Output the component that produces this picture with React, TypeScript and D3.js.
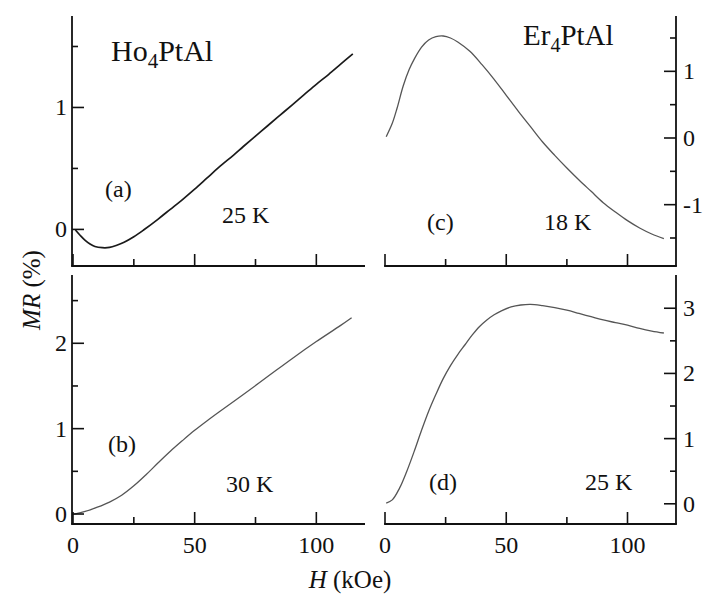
import React from "react";
import * as d3 from "d3";

// ---- data ----
const hA = [1, 3, 5, 7, 9, 12, 15, 18, 21, 25, 29, 35, 40, 45, 50, 55, 60, 66, 70, 75, 80, 85, 90, 95, 100, 105, 110, 115];
const mrA = [-0.005, -0.05, -0.09, -0.12, -0.14, -0.15, -0.148, -0.13, -0.105, -0.06, -0.005, 0.085, 0.165, 0.245, 0.33, 0.42, 0.51, 0.61, 0.68, 0.765, 0.85, 0.935, 1.02, 1.105, 1.19, 1.27, 1.355, 1.44];

const hB = [0.5, 5, 10, 15, 20, 25, 30, 35, 40, 45, 50, 55, 60, 70, 80, 90, 100, 110, 114.5];
const mrB = [0, 0.03, 0.08, 0.14, 0.22, 0.33, 0.46, 0.6, 0.735, 0.86, 0.98, 1.09, 1.195, 1.4, 1.61, 1.82, 2.02, 2.21, 2.3];

const hC = [0.5, 3, 5, 7.5, 10, 12, 15, 18, 21, 24, 27, 30, 35, 40, 45, 50, 55, 60, 65, 70, 75, 80, 85, 90, 95, 100, 105, 110, 115];
const mrC = [0.02, 0.22, 0.45, 0.78, 1.03, 1.18, 1.36, 1.47, 1.52, 1.53, 1.5, 1.44, 1.3, 1.1, 0.88, 0.64, 0.4, 0.17, -0.06, -0.26, -0.45, -0.63, -0.8, -0.97, -1.11, -1.24, -1.35, -1.44, -1.51];

const hD = [0.5, 3, 6, 9, 12, 15, 18, 21, 24, 27, 30, 33, 36, 39, 42, 45, 48, 52, 56, 60, 65, 70, 75, 80, 85, 90, 95, 100, 105, 110, 115];
const mrD = [0.01, 0.06, 0.24, 0.5, 0.8, 1.12, 1.42, 1.68, 1.92, 2.12, 2.29, 2.44, 2.59, 2.72, 2.82, 2.9, 2.96, 3.02, 3.05, 3.06, 3.04, 3.01, 2.97, 2.92, 2.87, 2.82, 2.78, 2.74, 2.69, 2.65, 2.62];

const xTicks = [0, 25, 50, 75, 100];
const xLabels = [0, 50, 100];
const yTicksA = [0, 0.5, 1, 1.5];
const yTicksB = [0, 0.5, 1, 1.5, 2, 2.5];
const yTicksC = [-1.5, -1, -0.5, 0, 0.5, 1, 1.5];
const yTicksD = [0, 0.5, 1, 1.5, 2, 2.5, 3];

const FONT = "'Liberation Serif', 'Times New Roman', Times, serif";

type PanelProps = {
  h: number[];
  mr: number[];
  xRange: [number, number];
  yDomain: [number, number];
  yRange: [number, number];
  yTicks: number[];
  side: "left" | "right";
  showXLabels: boolean;
  stroke: string;
  sw: number;
};

function Panel(p: PanelProps) {
  const x = d3.scaleLinear().domain([0, 120]).range(p.xRange);
  const y = d3.scaleLinear().domain(p.yDomain).range(p.yRange);
  const line = d3
    .line<number>()
    .x((_, i) => x(p.h[i]))
    .y((d) => y(d))
    .curve(d3.curveCatmullRom.alpha(0.5));
  const axX = p.side === "left" ? p.xRange[0] - 1 : p.xRange[1];
  const bottom = p.yRange[0];
  const top = p.yRange[1];
  const dir = p.side === "left" ? 1 : -1;
  return (
    <g>
      <path d={line(p.mr) || ""} fill="none" stroke={p.stroke} strokeWidth={p.sw} strokeLinejoin="round" />
      <line x1={axX} x2={axX} y1={top} y2={bottom} stroke="#111" strokeWidth={1.8} />
      <line x1={p.xRange[0] - (p.side === "left" ? 1.9 : 0.9)} x2={p.xRange[1] + (p.side === "right" ? 0.9 : 0)} y1={bottom} y2={bottom} stroke="#111" strokeWidth={1.8} />
      {xTicks.map((t) => {
        const major = xLabels.includes(t);
        return (
          <line key={"xt" + t} x1={x(t)} x2={x(t)} y1={bottom} y2={bottom - (major ? 12 : 7)} stroke="#111" strokeWidth={1.6} />
        );
      })}
      {p.showXLabels &&
        xLabels.map((t) => (
          <text key={"xl" + t} x={x(t)} y={bottom + 29} textAnchor="middle" fontSize={24} fontFamily={FONT} fill="#111">
            {t}
          </text>
        ))}
      {p.yTicks.map((t) => {
        const major = Number.isInteger(t);
        return (
          <g key={"yt" + t}>
            <line x1={axX} x2={axX + dir * (major ? 12 : 6)} y1={y(t)} y2={y(t)} stroke="#111" strokeWidth={1.6} />
            {major && (
              <text
                x={p.side === "left" ? axX - 5 : axX + 7}
                y={y(t) + 8}
                textAnchor={p.side === "left" ? "end" : "start"}
                fontSize={24}
                fontFamily={FONT}
                fill="#111"
              >
                {t < 0 ? "-" + Math.abs(t) : t}
              </text>
            )}
          </g>
        );
      })}
    </g>
  );
}

export default function App() {
  const txt = (x: number, y: number, s: string, fs = 24) => (
    <text x={x} y={y} fontSize={fs} fontFamily={FONT} fill="#111">
      {s}
    </text>
  );
  return (
    <svg width={703} height={595} style={{ position: "absolute", left: 0, top: 0, background: "#fff" }}>
      <rect width={703} height={595} fill="#fff" />
      <Panel h={hA} mr={mrA} xRange={[73, 365]} yDomain={[-0.3, 1.75]} yRange={[266, 16]} yTicks={yTicksA} side="left" showXLabels={false} stroke="#1a1a1a" sw={1.7} />
      <Panel h={hB} mr={mrB} xRange={[73, 365]} yDomain={[-0.117, 2.8]} yRange={[524, 275]} yTicks={yTicksB} side="left" showXLabels={true} stroke="#555" sw={1.3} />
      <Panel h={hC} mr={mrC} xRange={[385, 676]} yDomain={[-1.92, 1.83]} yRange={[266, 16]} yTicks={yTicksC} side="right" showXLabels={false} stroke="#555" sw={1.3} />
      <Panel h={hD} mr={mrD} xRange={[385, 676]} yDomain={[-0.31, 3.51]} yRange={[524, 275]} yTicks={yTicksD} side="right" showXLabels={true} stroke="#555" sw={1.3} />

      <text x={111} y={61} fontSize={30} fontFamily={FONT} fill="#111">
        Ho<tspan fontSize={21} dy={7}>4</tspan>
        <tspan dy={-7}>PtAl</tspan>
      </text>
      <text x={523} y={45} fontSize={29} fontFamily={FONT} fill="#111">
        Er<tspan fontSize={20} dy={7}>4</tspan>
        <tspan dy={-7}>PtAl</tspan>
      </text>

      {txt(105, 197, "(a)")}
      {txt(222, 223, "25 K")}
      {txt(427, 230, "(c)")}
      {txt(544, 230, "18 K")}
      {txt(108, 452, "(b)")}
      {txt(226, 492, "30 K")}
      {txt(429, 490, "(d)")}
      {txt(585, 490, "25 K")}

      <text x={350} y={588} textAnchor="middle" fontSize={25} fontFamily={FONT} fill="#111">
        <tspan fontStyle="italic">H</tspan> (kOe)
      </text>
      <text transform="translate(40,290) rotate(-90)" textAnchor="middle" fontSize={25} fontFamily={FONT} fill="#111">
        <tspan fontStyle="italic">MR</tspan> (%)
      </text>
    </svg>
  );
}
